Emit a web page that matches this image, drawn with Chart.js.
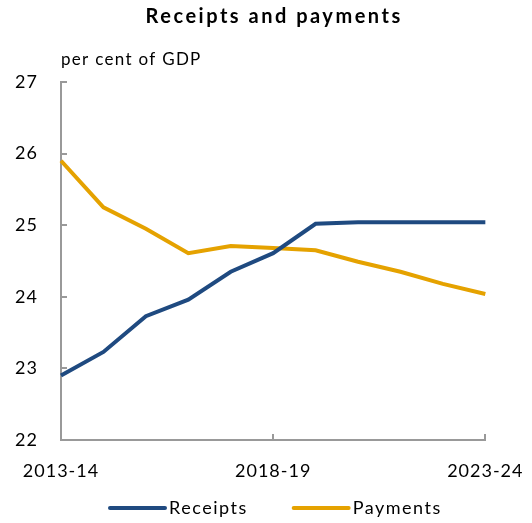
<!DOCTYPE html>
<html>
<head>
<meta charset="utf-8">
<script src="https://cdn.jsdelivr.net/npm/chart.js@4/dist/chart.umd.min.js"></script>
<style>
  html, body { margin: 0; padding: 0; background: #ffffff; }
  #wrap { width: 532px; height: 523px; }
</style>
</head>
<body>
<div id="wrap"><canvas id="chart" width="532" height="523"></canvas></div>
<script>
// Financial years
const years = ['2013-14', '2014-15', '2015-16', '2016-17', '2017-18', '2018-19',
               '2019-20', '2020-21', '2021-22', '2022-23', '2023-24'];
// Per cent of GDP
const receipts = [22.90, 23.23, 23.73, 23.96, 24.35, 24.61, 25.02, 25.04, 25.04, 25.04, 25.04];
const payments = [25.90, 25.25, 24.95, 24.61, 24.71, 24.68, 24.65, 24.49, 24.35, 24.18, 24.04];
// Years that carry a label and a tick mark on the horizontal axis
const labelledYears = ['2013-14', '2018-19', '2023-24'];
const yTicks = [22, 23, 24, 25, 26, 27];

const FONT = 'Lato, "Open Sans", sans-serif';
const AXIS_GREY = '#999999';

// Title, unit label, legend and inward tick marks
const decorations = {
  id: 'decorations',
  beforeDraw(chart) {
    // slightly open spacing for the axis labels
    chart.ctx.letterSpacing = '1px';
  },
  afterDraw(chart) {
    const { ctx, chartArea, scales } = chart;
    const x = scales.x, y = scales.y;
    ctx.save();

    // inward tick marks
    ctx.strokeStyle = AXIS_GREY;
    ctx.lineWidth = 2;
    ctx.beginPath();
    yTicks.forEach(v => {
      const py = Math.round(y.getPixelForValue(v));
      ctx.moveTo(chartArea.left, py);
      ctx.lineTo(chartArea.left + 6, py);
    });
    labelledYears.forEach(lbl => {
      const px = Math.round(x.getPixelForValue(years.indexOf(lbl)));
      ctx.moveTo(px, chartArea.bottom);
      ctx.lineTo(px, chartArea.bottom - 6);
    });
    ctx.stroke();

    // title
    ctx.fillStyle = '#000000';
    ctx.textAlign = 'center';
    ctx.textBaseline = 'middle';
    ctx.letterSpacing = '2.5px';
    ctx.font = 'bold 20px ' + FONT;
    ctx.fillText('Receipts and payments', (chartArea.left + chartArea.right) / 2 + 1, 17);

    // unit label
    ctx.textAlign = 'left';
    ctx.letterSpacing = '1.3px';
    ctx.font = '17px ' + FONT;
    ctx.fillText('per cent of GDP', chartArea.left, 60);

    // legend
    ctx.letterSpacing = '1.5px';
    ctx.font = '18px ' + FONT;
    const ly = 508;
    let lx = 110;
    chart.data.datasets.forEach(ds => {
      ctx.strokeStyle = ds.borderColor;
      ctx.lineWidth = 4;
      ctx.lineCap = 'round';
      ctx.beginPath();
      ctx.moveTo(lx, ly);
      ctx.lineTo(lx + 55, ly);
      ctx.stroke();
      ctx.fillStyle = '#000000';
      ctx.fillText(ds.label, lx + 59, ly);
      lx += 59 + ctx.measureText(ds.label).width + 46;
    });
    ctx.restore();
    ctx.letterSpacing = '0px';
  }
};

new Chart(document.getElementById('chart'), {
  type: 'line',
  data: {
    labels: years,
    datasets: [
      { label: 'Receipts', data: receipts, borderColor: '#1F4A80', borderWidth: 4,
        pointRadius: 0, tension: 0, fill: false },
      { label: 'Payments', data: payments, borderColor: '#E5A200', borderWidth: 4,
        pointRadius: 0, tension: 0, fill: false }
    ]
  },
  options: {
    responsive: false,
    animation: false,
    layout: { padding: { top: 82, right: 46, left: 0, bottom: 0 } },
    plugins: {
      legend: { display: false },
      title: { display: false },
      tooltip: { enabled: false }
    },
    scales: {
      x: {
        type: 'category',
        offset: false,
        grid: { display: false },
        border: { display: true, color: AXIS_GREY, width: 2 },
        afterFit(scale) { scale.height = 83; },
        ticks: {
          autoSkip: false,
          maxRotation: 0,
          padding: 12,
          color: '#000000',
          font: { family: FONT, size: 18 },
          callback(value) {
            const lbl = this.getLabelForValue(value);
            return labelledYears.includes(lbl) ? lbl : '';
          }
        }
      },
      y: {
        min: 22,
        max: 27,
        grid: { display: false },
        border: { display: true, color: AXIS_GREY, width: 2 },
        afterFit(scale) { scale.width = 61; },
        ticks: {
          stepSize: 1,
          padding: 15,
          color: '#000000',
          font: { family: FONT, size: 18 }
        }
      }
    }
  },
  plugins: [decorations]
});
</script>
</body>
</html>
